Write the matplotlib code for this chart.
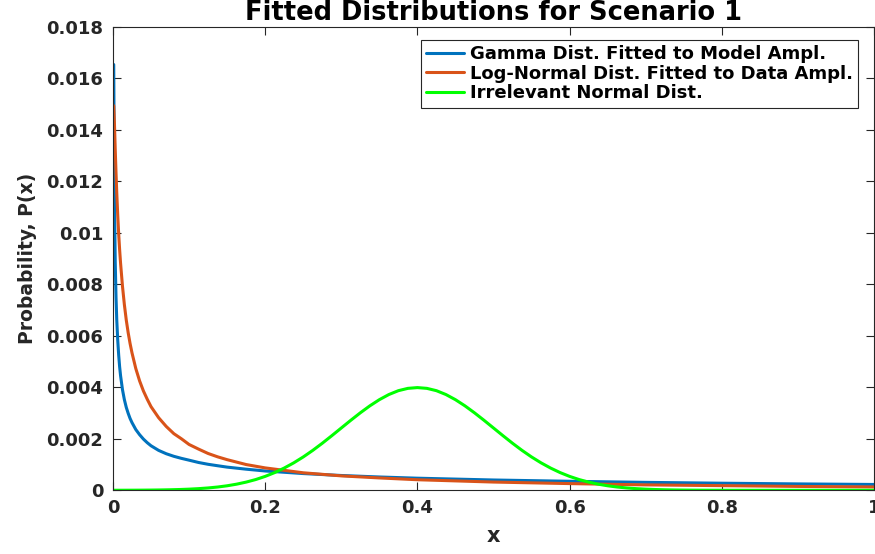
import matplotlib
matplotlib.use("Agg")
import matplotlib.pyplot as plt

# Sample grid shared by the two heavy-tailed fits (dense near zero)
x_fit = [0.001, 0.002, 0.003, 0.004, 0.005, 0.00625, 0.0075, 0.00875, 0.01, 0.0125,
         0.015, 0.0175, 0.02, 0.0225, 0.025, 0.03, 0.035, 0.04, 0.045, 0.05,
         0.06, 0.07, 0.08, 0.09, 0.1, 0.1125, 0.125, 0.1375, 0.15, 0.175,
         0.2, 0.25, 0.3, 0.35, 0.4, 0.5, 0.6, 0.7, 0.8, 0.9, 1.0]

gamma_p = [0.01654, 0.01115, 0.00886, 0.00751, 0.00661, 0.00584, 0.00526, 0.00480,
           0.00445, 0.00391, 0.00352, 0.00322, 0.00299, 0.00279, 0.00263, 0.00236,
           0.00216, 0.00199, 0.00185, 0.00173, 0.00155, 0.00142, 0.00132, 0.00124,
           0.00117, 0.00108, 0.00101, 0.000954, 0.00090, 0.00082, 0.00075, 0.00065,
           0.000575, 0.000517, 0.00047, 0.00040, 0.00035, 0.000308, 0.000275,
           0.000248, 0.000226]

lognorm_p = [0.01494, 0.01420, 0.01323, 0.01234, 0.01155, 0.01069, 0.00997, 0.00935,
             0.00882, 0.00793, 0.00721, 0.00661, 0.00612, 0.00570, 0.00534, 0.00473,
             0.00425, 0.00386, 0.00354, 0.00325, 0.00282, 0.00248, 0.00220, 0.00200,
             0.00178, 0.00160, 0.00143, 0.00130, 0.00119, 0.00100, 0.00087, 0.00068,
             0.00056, 0.00048, 0.00041, 0.00032, 0.00026, 0.00021, 0.00018, 0.00015,
             0.00013]

# Normal curve sampled every 0.0125 on [0, 1]
x_norm = [i * 0.0125 for i in range(81)]
normal_p = [0.0000013, 0.0000022, 0.0000035, 0.0000056, 0.0000088, 0.0000134,
            0.0000203, 0.0000302, 0.0000443, 0.000064, 0.000091, 0.000127,
            0.000175, 0.000238, 0.000318, 0.000417, 0.00054, 0.000688,
            0.000864, 0.001066, 0.001295, 0.00155, 0.001827, 0.00212,
            0.00242, 0.00272, 0.00301, 0.00328, 0.00352, 0.00372,
            0.00387, 0.00396, 0.00399, 0.00396, 0.00387, 0.00372,
            0.00352, 0.00328, 0.00301, 0.00272, 0.00242, 0.00212,
            0.001827, 0.00155, 0.001295, 0.001066, 0.000864, 0.000688,
            0.00054, 0.000417, 0.000318, 0.000238, 0.000175, 0.000127,
            0.000091, 0.000064, 0.0000443, 0.0000302, 0.0000203, 0.0000134,
            0.0000088, 0.0000056, 0.0000035, 0.0000022, 0.0000013, 0.0000007,
            0.0000004, 0.0000002, 0.0000001, 0.0, 0.0, 0.0, 0.0, 0.0, 0.0,
            0.0, 0.0, 0.0, 0.0, 0.0, 0.0]

series_labels = ["Gamma Dist. Fitted to Model Ampl.",
                 "Log-Normal Dist. Fitted to Data Ampl.",
                 "Irrelevant Normal Dist."]
series_colors = ["#0072BD", "#D95319", "#00FF00"]

x_ticks = [0, 0.2, 0.4, 0.6, 0.8, 1]
x_ticklabels = ["0", "0.2", "0.4", "0.6", "0.8", "1"]
y_ticks = [0, 0.002, 0.004, 0.006, 0.008, 0.01, 0.012, 0.014, 0.016, 0.018]
y_ticklabels = ["0", "0.002", "0.004", "0.006", "0.008", "0.01", "0.012",
                "0.014", "0.016", "0.018"]

plt.rcParams["font.family"] = ["DejaVu Sans"]
plt.rcParams["font.weight"] = "bold"

fig = plt.figure(figsize=(8.75, 5.54), dpi=100)
ax = fig.add_axes([0.1291, 0.115, 0.8698, 0.8363])

line_kw = dict(lw=2.2, solid_joinstyle="round", solid_capstyle="round")
ax.plot(x_fit, gamma_p, color=series_colors[0], label=series_labels[0], **line_kw)
ax.plot(x_fit, lognorm_p, color=series_colors[1], label=series_labels[1], **line_kw)
ax.plot(x_norm, normal_p, color=series_colors[2], label=series_labels[2], **line_kw)

ax.set_xlim(0, 1)
ax.set_ylim(0, 0.018)
ax.set_xticks(x_ticks)
ax.set_xticklabels(x_ticklabels)
ax.set_yticks(y_ticks)
ax.set_yticklabels(y_ticklabels)

edge = "#262626"
for s in ax.spines.values():
    s.set_color(edge)
    s.set_linewidth(0.8)
ax.tick_params(direction="in", length=5.5, width=0.8, color=edge,
               top=True, right=True, labelsize=13, labelcolor=edge)
ax.tick_params(axis="y", pad=7)
ax.tick_params(axis="x", pad=6)

ax.set_title("Fitted Distributions for Scenario 1", fontsize=18.5,
             fontweight="bold", color="black", pad=5)
ax.set_xlabel("x", fontsize=15, fontweight="bold", color=edge, labelpad=7)
ax.set_ylabel("Probability, P(x)", fontsize=13.5, fontweight="bold", color=edge,
              labelpad=7)

leg = ax.legend(loc="upper right", bbox_to_anchor=(0.979, 0.972),
                borderaxespad=0, fontsize=13, frameon=True, fancybox=False,
                framealpha=1, edgecolor=edge, handlelength=2.1,
                handletextpad=0.3, labelspacing=0.08, borderpad=0.3)
leg.get_frame().set_linewidth(0.8)

fig.savefig("out.png", dpi=100)
